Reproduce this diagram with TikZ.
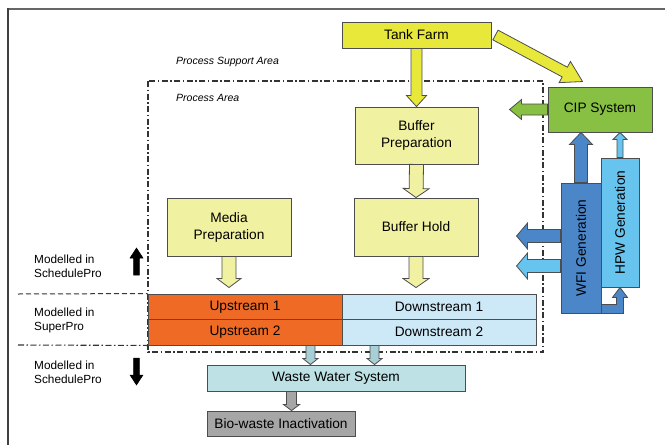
\documentclass[tikz,border=0pt]{standalone}
\usepackage{fontspec}
\setmainfont{Liberation Sans}
\usetikzlibrary{calc}

\definecolor{tankyellow}{HTML}{E8E83A}
\definecolor{paleyellow}{HTML}{F1F1A2}
\definecolor{cipgreen}{HTML}{88C043}
\definecolor{wfiblue}{HTML}{4A86C8}
\definecolor{hpwblue}{HTML}{66C4EE}
\definecolor{usorange}{HTML}{EE6A25}
\definecolor{dslight}{HTML}{CDE8F6}
\definecolor{wwteal}{HTML}{BDE1E4}
\definecolor{wwarrow}{HTML}{A8CED6}
\definecolor{biogray}{HTML}{A6A6A6}
\definecolor{edgegray}{HTML}{4D4D4D}

% Outlined block arrow from #2 (tail) to #3 (tip):
% #1 style, #4 half shaft width, #5 half head width, #6 head length (all pt)
\newcommand\blockarrow[6]{%
  \draw[#1] let \p1=(#2), \p2=(#3),
      \n1={atan2(\y2-\y1,\x2-\x1)}, \n2={veclen(\x2-\x1,\y2-\y1)} in
    ({\x1-(#4)*sin(\n1)},{\y1+(#4)*cos(\n1)}) --
    ({\x1+(\n2-#6)*cos(\n1)-(#4)*sin(\n1)},{\y1+(\n2-#6)*sin(\n1)+(#4)*cos(\n1)}) --
    ({\x1+(\n2-#6)*cos(\n1)-(#5)*sin(\n1)},{\y1+(\n2-#6)*sin(\n1)+(#5)*cos(\n1)}) --
    (\p2) --
    ({\x1+(\n2-#6)*cos(\n1)+(#5)*sin(\n1)},{\y1+(\n2-#6)*sin(\n1)-(#5)*cos(\n1)}) --
    ({\x1+(\n2-#6)*cos(\n1)+(#4)*sin(\n1)},{\y1+(\n2-#6)*sin(\n1)-(#4)*cos(\n1)}) --
    ({\x1+(#4)*sin(\n1)},{\y1-(#4)*cos(\n1)}) -- cycle;}

\begin{document}
\begin{tikzpicture}[x=1pt,y=-1pt,
  box/.style={draw=edgegray, line width=0.9pt, inner sep=0pt, align=center,
    font=\fontsize{13.7}{17}\selectfont},
  arr/.style={draw=edgegray, line width=0.8pt, line join=miter},
  note/.style={font=\fontsize{10.5}{12}\selectfont\itshape, anchor=west, inner sep=0pt},
  lvl/.style={font=\fontsize{11.8}{14}\selectfont, anchor=west, align=left, inner sep=0pt},
  zone/.style={draw=black!80, line width=1.1pt,
    dash pattern=on 6pt off 2.5pt on 1.5pt off 2.5pt},
]
\useasboundingbox (0,0) rectangle (665,445);

% page frame (top and left rules)
\draw[line width=2pt, black!60] (7,9) -- (665,9);
\draw[line width=1.5pt, black!75] (8,8) -- (8,445);

% process area boundary
\draw[zone] (148,81) rectangle (543,352);
\node[note] (psa) at (176,62) {Process Support Area};
\node[note] (pa) at (176,98) {Process Area};

% main units
\node[box, fill=tankyellow, minimum width=149pt, minimum height=26pt] (tank) at (416.5,35) {Tank Farm};
\node[box, fill=paleyellow, minimum width=123pt, minimum height=57pt] (bprep) at (416.5,135.5) {Buffer\\Preparation};
\node[box, fill=paleyellow, minimum width=124pt, minimum height=58pt] (bhold) at (416,227) {Buffer Hold};
\node[box, fill=paleyellow, minimum width=124pt, minimum height=58pt] (media) at (229,227) {Media\\Preparation};

\node[box, fill=usorange, minimum width=194pt, minimum height=25.5pt] (up1) at (245,306.75) {Upstream 1};
\node[box, fill=usorange, minimum width=194pt, minimum height=25.5pt] (up2) at (245,332.25) {Upstream 2};
\node[box, fill=dslight, minimum width=194pt, minimum height=25.5pt] (down1) at (439,306.75) {Downstream 1};
\node[box, fill=dslight, minimum width=194pt, minimum height=25.5pt] (down2) at (439,332.25) {Downstream 2};

\node[box, fill=wwteal, minimum width=258pt, minimum height=26pt] (waste) at (336,378) {Waste Water System};
\node[box, fill=biogray, minimum width=148pt, minimum height=25pt] (bio) at (281,423.5) {Bio-waste Inactivation};

\node[box, fill=cipgreen, minimum width=104pt, minimum height=45pt] (cip) at (600,109.5) {CIP System};
\node[box, fill=hpwblue, minimum width=38pt, minimum height=129pt] (hpw) at (620,222.5) {};
\node[box, fill=wfiblue, minimum width=40pt, minimum height=130pt] (wfi) at (581,248) {};
\node[font=\fontsize{13.7}{17}\selectfont, rotate=90, inner sep=0pt] (wfilab) at (wfi.center) {WFI Generation};
\node[font=\fontsize{13.7}{17}\selectfont, rotate=90, inner sep=0pt] (hpwlab) at (hpw.center) {HPW Generation};

% yellow feed arrows
\coordinate (tankOut) at ($(tank.east)+(4,0)$);
\coordinate (cipIn) at ($(cip.north west)+(35,-5)$);
\blockarrow{arr, fill=tankyellow}{tank.south}{bprep.north}{5.5}{10}{11}
\blockarrow{arr, fill=tankyellow}{tankOut}{cipIn}{5.5}{12}{20}
\blockarrow{arr, fill=paleyellow}{bprep.south}{bhold.north}{7}{13}{9}
\coordinate (mediaTip) at ($(media.south |- up1.north)+(0,-6)$);
\coordinate (bholdTip) at ($(bhold.south |- down1.north)+(0,-6)$);
\blockarrow{arr, fill=paleyellow}{media.south}{mediaTip}{7}{12}{9}
\blockarrow{arr, fill=paleyellow}{bhold.south}{bholdTip}{7}{13}{9}

% utilities
\coordinate (cleanOut) at ($(cip.west)+(-38,0)$);
\blockarrow{arr, fill=cipgreen}{cip.west}{cleanOut}{5.5}{10}{12}
\blockarrow{arr, fill=wfiblue}{wfi.north}{wfi.north |- cip.south}{6.5}{11.5}{12}
\blockarrow{arr, fill=hpwblue}{hpw.north}{hpw.north |- cip.south}{3}{7}{7}
\coordinate (wfiA) at ($(wfi.west)+(0,-12)$);
\coordinate (wfiB) at ($(wfi.west)+(0,18)$);
\coordinate (wfiAtip) at ($(wfiA)+(-44,0)$);
\coordinate (wfiBtip) at ($(wfiB)+(-44,0)$);
\blockarrow{arr, fill=wfiblue}{wfiA}{wfiAtip}{6.5}{13}{11}
\blockarrow{arr, fill=hpwblue}{wfiB}{wfiBtip}{6.5}{13}{11}
% WFI feed into HPW generation
\draw[arr, fill=wfiblue] let \p1=(wfi.south east), \p2=(hpw.south) in
  (\x1,\y1+9pt) -- (\x2-3.5pt,\y1+9pt) -- (\x2-3.5pt,\y2-10pt) -- (\x2-7.5pt,\y2-10pt) --
  (\x2,\y2) -- (\x2+7.5pt,\y2-10pt) -- (\x2+3.5pt,\y2-10pt) -- (\x2+3.5pt,\y1) --
  (\x1,\y1) -- cycle;

% waste streams
\coordinate (w1) at ($(up2.south east)+(-32,0)$);
\coordinate (w2) at ($(down2.south west)+(33,0)$);
\blockarrow{arr, fill=wwarrow}{w1}{w1 |- waste.north}{4.5}{7.5}{6}
\blockarrow{arr, fill=wwarrow}{w2}{w2 |- waste.north}{4.5}{7.5}{6}
\coordinate (g1) at ($(bio.north west)+(85,0)$);
\blockarrow{arr, fill=biogray}{g1 |- waste.south}{g1}{5}{8}{6}

% modelling levels
\coordinate (lvlA) at (18,294);
\coordinate (lvlB) at (18,345);
\draw[black!80, line width=1pt, dash pattern=on 5pt off 3pt] (lvlA) -- (up1.north west);
\draw[zone] (lvlB) -- (up2.south west);
\node[lvl] (lab1) at (34,266) {Modelled in\\SchedulePro};
\node[lvl] (lab2) at (34,320) {Modelled in\\SuperPro};
\node[lvl] (lab3) at (34,372.5) {Modelled in\\SchedulePro};
\coordinate (upTail) at (136.5,275);
\coordinate (upTip) at (136.5,248);
\coordinate (dnTail) at (136.5,358);
\coordinate (dnTip) at (136.5,385);
\blockarrow{fill=black, draw=black, line width=0.5pt}{upTail}{upTip}{2.8}{6.5}{10}
\blockarrow{fill=black, draw=black, line width=0.5pt}{dnTail}{dnTip}{2.8}{6.5}{10}
\end{tikzpicture}
\end{document}
